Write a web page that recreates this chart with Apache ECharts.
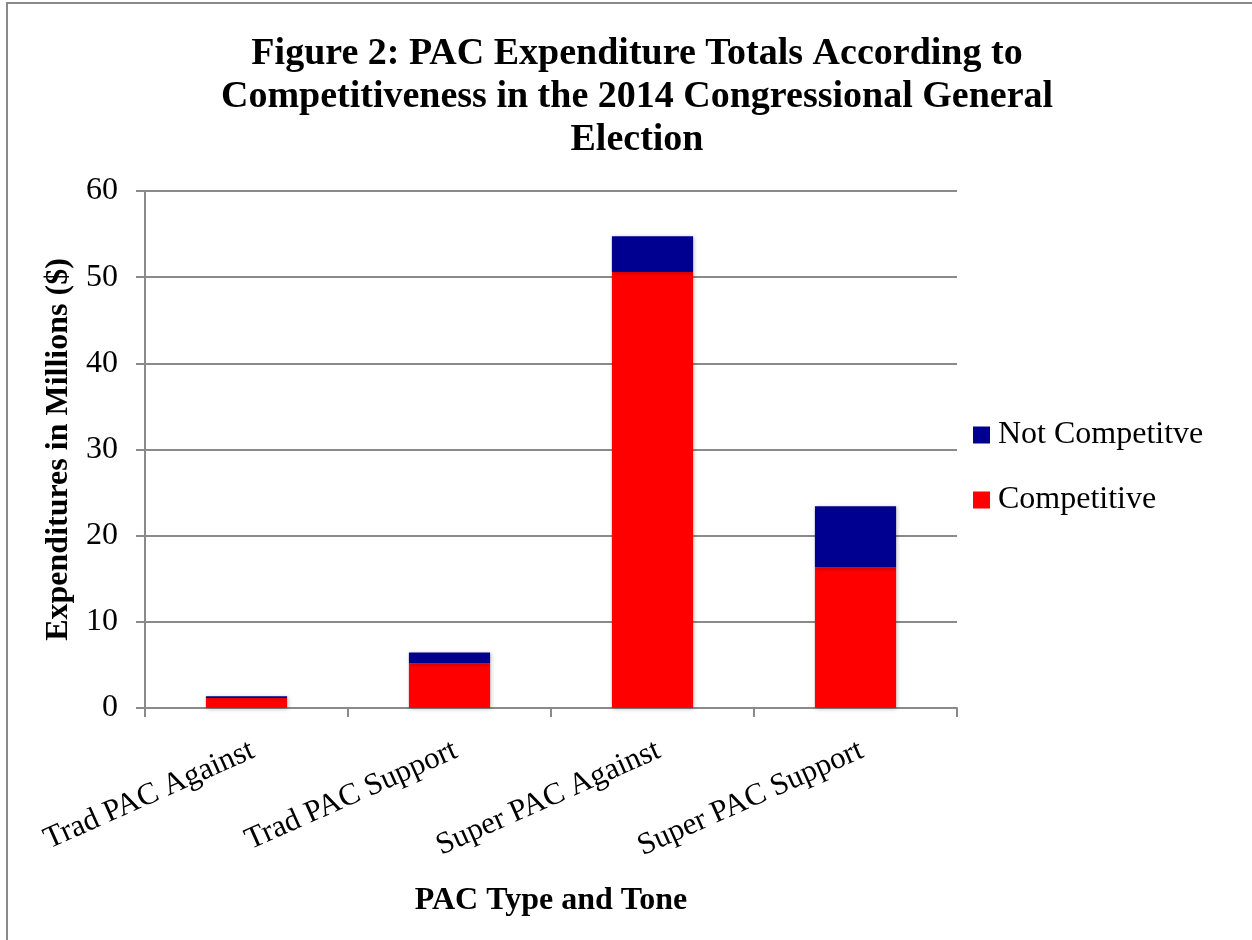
<!DOCTYPE html>
<html><head><meta charset="utf-8">
<script src="https://cdn.jsdelivr.net/npm/echarts@6/dist/echarts.min.js"></script>
<style>html,body{margin:0;padding:0;background:#fff}#c{width:1252px;height:940px}</style>
</head><body><div id="c"></div>
<script>
const categories = ['Trad PAC Against', 'Trad PAC Support', 'Super PAC Against', 'Super PAC Support'];
const competitive = [1.15, 5.15, 50.6, 16.3];
const notCompetitive = [0.2, 1.3, 4.15, 7.1];
const yTicks = [0, 10, 20, 30, 40, 50, 60];
const seriesNames = ['Not Competitve', 'Competitive'];

const F = '"Liberation Serif", "Times New Roman", serif';
const chart = echarts.init(document.getElementById('c'));
chart.setOption({
  animation: false,
  backgroundColor: '#fff',
  graphic: [{
    type: 'rect', shape: { x: 7, y: 3, width: 1300, height: 1000 },
    style: { fill: 'none', stroke: '#8a8a8a', lineWidth: 2 }
  }],
  title: {
    text: 'Figure 2: PAC Expenditure Totals According to\nCompetitiveness in the 2014 Congressional General\nElection',
    left: 632, top: 28, textAlign: 'center',
    textStyle: { fontFamily: F, fontWeight: 'bold', fontSize: 38, lineHeight: 43, color: '#000' }
  },
  legend: {
    orient: 'vertical', left: 968, top: 414, itemGap: 33,
    itemWidth: 17, itemHeight: 17, icon: 'rect',
    data: seriesNames,
    textStyle: { fontFamily: F, fontSize: 32, color: '#000', padding: [0, 0, 0, 3] }
  },
  grid: { left: 145, right: 295, top: 191, bottom: 232 },
  xAxis: {
    type: 'category', data: categories,
    name: 'PAC Type and Tone', nameLocation: 'middle', nameGap: 177,
    nameTextStyle: { fontFamily: F, fontWeight: 'bold', fontSize: 32, color: '#000' },
    axisLine: { lineStyle: { color: '#8a8a8a', width: 2 } },
    axisTick: { show: true, length: 9, lineStyle: { color: '#8a8a8a', width: 2 } },
    axisLabel: { rotate: 24, fontFamily: F, fontSize: 31, color: '#000', margin: 27, interval: 0,
                 align: 'right', verticalAlign: 'top' }
  },
  yAxis: {
    type: 'value', min: yTicks[0], max: yTicks[yTicks.length - 1], interval: 10,
    name: 'Expenditures in Millions ($)', nameLocation: 'middle', nameGap: 65,
    nameTextStyle: { fontFamily: F, fontWeight: 'bold', fontSize: 32, color: '#000' },
    axisLine: { show: true, lineStyle: { color: '#8a8a8a', width: 2 } },
    axisTick: { show: true, length: 9, lineStyle: { color: '#8a8a8a', width: 2 } },
    axisLabel: { fontFamily: F, fontSize: 32, color: '#000', margin: 27 },
    splitLine: { lineStyle: { color: '#8a8a8a', width: 2 } }
  },
  series: [
    {
      name: seriesNames[1], type: 'bar', stack: 'a', data: competitive, barWidth: '40%',
      itemStyle: { color: '#ff0000', shadowBlur: 4, shadowColor: 'rgba(0,0,0,0.25)', shadowOffsetX: 1, shadowOffsetY: 1 }
    },
    {
      name: seriesNames[0], type: 'bar', stack: 'a', data: notCompetitive, barWidth: '40%',
      itemStyle: { color: '#000090', shadowBlur: 4, shadowColor: 'rgba(0,0,0,0.25)', shadowOffsetX: 1, shadowOffsetY: 1 }
    }
  ]
});
</script></body></html>
